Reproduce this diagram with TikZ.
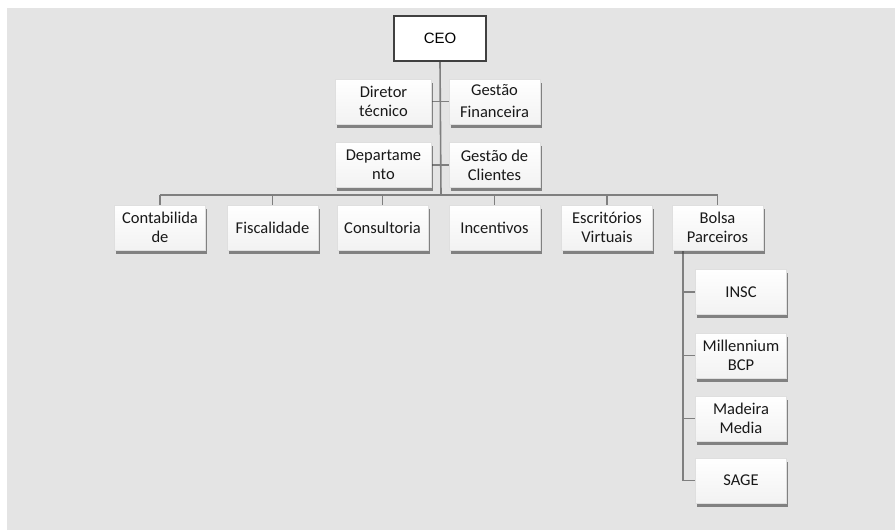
\documentclass[tikz,border=0pt]{standalone}
\usepackage{fontspec}
\setmainfont{Carlito}
\newfontfamily\ceofont{Liberation Sans}
\usetikzlibrary{shadows,backgrounds}
\definecolor{bgc}{HTML}{E4E4E4}
\definecolor{linec}{HTML}{7F7F7F}

\begin{document}
\begin{tikzpicture}[x=1pt,y=-1pt,
  unit/.style={draw=gray!25, line width=0.3pt, top color=white, bottom color=gray!10,
    drop shadow={shadow xshift=1.5pt, shadow yshift=-3.5pt, fill=black!75, opacity=0.6},
    minimum width=91pt, minimum height=45pt, align=center, inner sep=1pt,
    font=\fontsize{16.5}{19}\selectfont, text=black!90},
  boss/.style={draw=black!75, line width=2.4pt, fill=white, minimum width=92pt,
    minimum height=45pt, font=\ceofont\fontsize{15}{17}\selectfont},
  link/.style={draw=linec, line width=1.6pt}]

    \useasboundingbox (0,0) rectangle (895,530);

    \node[boss] (ceo) at (440,38.5) {CEO};

    \node[unit, minimum width=96pt] (dir) at (383.5,101.5) {Diretor\\técnico};
    \node[unit] (fin) at (494.5,101.5) {Gestão\\[3pt]Financeira};
    \node[unit, minimum width=96pt] (dep) at (383.5,165) {Departame\\nto};
    \node[unit] (cli) at (494.5,165) {Gestão de\\Clientes};

    \coordinate (hub) at (441,195);

    \node[unit] (cont) at (160,227.5) {Contabilida\\de};
    \node[unit] (fisc) at (272.5,227.5) {Fiscalidade};
    \node[unit] (cons) at (382.5,227.5) {Consultoria};
    \node[unit] (ince) at (494.5,227.5) {Incentivos};
    \node[unit] (escr) at (607,227.5) {Escritórios\\Virtuais};
    \node[unit] (bols) at (717.5,227.5) {Bolsa\\Parceiros};

    \node[unit] (insc) at (741,292) {INSC};
    \node[unit] (mill) at (741,355.5) {Millennium\\BCP};
    \node[unit] (made) at (741,418.5) {Madeira\\Media};
    \node[unit] (sage) at (741,480.5) {SAGE};

    \coordinate (leg) at (683,0);

    % connectors behind the boxes
    \begin{scope}[on background layer]
    \fill[bgc] (7,8) rectangle (895,530);
    \draw[link] (ceo.south) -- (hub);
    \draw[link] (dir.east) -- (fin.west);
    \draw[link] (dep.east) -- (cli.west);
    \draw[link] (cont.north |- hub) -- (bols.north |- hub);
    \draw[link] (cont.north |- hub) -- (cont.north);
    \draw[link] (fisc.north |- hub) -- (fisc.north);
    \draw[link] (cons.north |- hub) -- (cons.north);
    \draw[link] (ince.north |- hub) -- (ince.north);
    \draw[link] (escr.north |- hub) -- (escr.north);
    \draw[link] (bols.north |- hub) -- (bols.north);
    \draw[link] (bols.south -| leg) -- (sage.west -| leg) -- (sage.west);
    \draw[link] (insc.west -| leg) -- (insc.west);
    \draw[link] (mill.west -| leg) -- (mill.west);
    \draw[link] (made.west -| leg) -- (made.west);
    \end{scope}

\end{tikzpicture}
\end{document}
